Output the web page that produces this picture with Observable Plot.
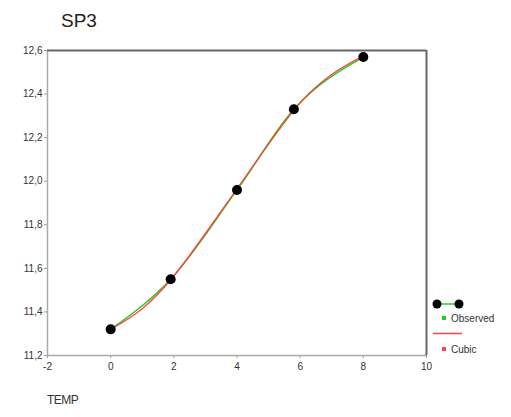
<!DOCTYPE html>
<html>
<head>
<meta charset="utf-8">
<script src="https://cdn.jsdelivr.net/npm/d3@7"></script>
<script src="https://cdn.jsdelivr.net/npm/@observablehq/plot@0.6"></script>
<style>
  body { margin: 0; background: #fff; font-family: "Liberation Sans", Arial, sans-serif; }
  #wrap { position: relative; width: 511px; height: 417px; }
  #wrap svg { position: absolute; left: 0; top: 0; }
  .title { position: absolute; left: 61px; top: 10px; font-size: 19px; color: #222; }
  .xlabel { position: absolute; left: 47px; top: 393px; font-size: 12px; color: #333; letter-spacing: -0.5px; }
</style>
</head>
<body>
<div id="wrap">
  <div class="title">SP3</div>
  <div class="xlabel">TEMP</div>
</div>
<script>
const obsTemp = [0, 1.9, 4, 5.8, 8];
const obsSP3 = [11.32, 11.55, 11.96, 12.33, 12.57];
const cubicTemp = [0, 1, 2, 3, 4, 5, 6, 7, 8];
const cubicSP3 = [11.32, 11.415, 11.565, 11.76, 11.965, 12.17, 12.36, 12.49, 12.575];
const xTicks = [-2, 0, 2, 4, 6, 8, 10];
const yTicks = [11.2, 11.4, 11.6, 11.8, 12.0, 12.2, 12.4, 12.6];
const legendLabels = ["Observed", "Cubic"];

const obs = obsTemp.map((t, i) => ({t, v: obsSP3[i]}));
const cub = cubicTemp.map((t, i) => ({t, v: cubicSP3[i]}));
const fmt = d => d3.format(".1f")(d).replace(".", ",");

const chart = Plot.plot({
  width: 511,
  height: 417,
  marginLeft: 47,
  marginRight: 85,
  marginTop: 50,
  marginBottom: 62,
  style: { fontFamily: "Liberation Sans, Arial, sans-serif", fontSize: "10px", color: "#333", background: "transparent" },
  x: { domain: [-2, 10], ticks: xTicks, tickSize: 3, tickFormat: d => String(d), label: null },
  y: { domain: [11.2, 12.6], ticks: yTicks, tickSize: 3, tickFormat: fmt, label: null },
  marks: [
    Plot.axisX({ticks: xTicks, tickSize: 3, tickPadding: 4, tickFormat: d => String(d), label: null, stroke: "#999", fill: "#333"}),
    Plot.axisY({ticks: yTicks, tickSize: 3, tickPadding: 2, tickFormat: fmt, label: null, stroke: "#999", fill: "#333"}),
    Plot.ruleX([-2], {stroke: "#aaa", strokeWidth: 1.5}),
    Plot.ruleY([11.2], {stroke: "#aaa", strokeWidth: 1.5}),
    Plot.ruleY([12.6], {stroke: "#666", strokeWidth: 2}),
    Plot.ruleX([10], {stroke: "#666", strokeWidth: 2}),
    Plot.line(obs, {x: "t", y: "v", stroke: "#22cc22", strokeWidth: 1.5, curve: "monotone-x"}),
    Plot.line(cub, {x: "t", y: "v", stroke: "#ff4444", strokeWidth: 1.3, curve: "natural"}),
    Plot.dot(obs, {x: "t", y: "v", r: 5, fill: "#000"})
  ]
});
const wrap = document.getElementById("wrap");
wrap.appendChild(chart);

// Legend
const ns = "http://www.w3.org/2000/svg";
const leg = document.createElementNS(ns, "svg");
leg.setAttribute("width", 511);
leg.setAttribute("height", 417);
leg.style.pointerEvents = "none";
leg.innerHTML = `
  <line x1="437" y1="304" x2="459" y2="304" stroke="#22cc22" stroke-width="1.5"/>
  <circle cx="437" cy="304" r="4.5" fill="#000"/>
  <circle cx="459" cy="304" r="4.5" fill="#000"/>
  <rect x="442" y="316" width="4" height="4" fill="#22cc22"/>
  <text x="451" y="322" font-size="10" fill="#333" font-family="Liberation Sans, Arial, sans-serif">${legendLabels[0]}</text>
  <line x1="433" y1="333.5" x2="462" y2="333.5" stroke="#ff4444" stroke-width="1.5"/>
  <rect x="442" y="347" width="4" height="4" fill="#ff4444"/>
  <text x="451" y="353" font-size="10" fill="#333" font-family="Liberation Sans, Arial, sans-serif">${legendLabels[1]}</text>
`;
wrap.appendChild(leg);
</script>
</body>
</html>
